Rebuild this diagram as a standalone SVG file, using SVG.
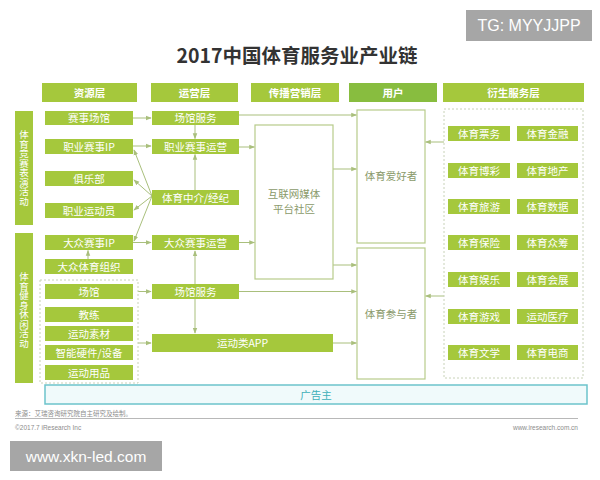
<svg xmlns="http://www.w3.org/2000/svg" width="600" height="480" viewBox="0 0 600 480">
<style>
text{font-family:"Noto Sans CJK SC","Liberation Sans",sans-serif}
.g{fill:#a5c83c}
.hd{fill:#a5c83c}
.t{fill:#fff;font-size:10.5px;text-anchor:middle}
.th{fill:#fff;font-size:10.5px;font-weight:bold;text-anchor:middle}
.vt{fill:#fff;font-size:9.5px;text-anchor:middle;writing-mode:vertical-rl;text-orientation:upright}
.ob{fill:#fff;stroke:#b7cb8a;stroke-width:1.2}
.ot{fill:#8a9a6a;font-size:10.5px;text-anchor:middle}
.dash{fill:none;stroke:#c8d2b8;stroke-width:1;stroke-dasharray:2 2}
.c path,.c line{stroke:#a9bf7c;stroke-width:1;fill:none}
.ft{fill:#8c8c8c;font-size:6.5px}
</style>
<defs>
<marker id="a" viewBox="0 0 8 8" refX="7" refY="4" markerWidth="6" markerHeight="6" orient="auto-start-reverse" markerUnits="userSpaceOnUse">
<path d="M0,1 L8,4 L0,7 Z" fill="#a9bf7c"/>
</marker>
</defs>
<rect width="600" height="480" fill="#fff"/>
<g id="tg"><rect x="466" y="10" width="126" height="31" fill="#a6a6a6"/><text x="529" y="31" fill="#fff" font-size="16" text-anchor="middle" style="font-family:'Liberation Sans',sans-serif">TG: MYYJJPP</text></g>
<text x="297" y="63" font-size="19.5" font-weight="bold" fill="#333" text-anchor="middle">2017中国体育服务业产业链</text>

<g id="headers">
<rect class="hd" x="42" y="83" width="95" height="19"/><text class="th" x="89.5" y="96.5">资源层</text>
<rect class="hd" x="151" y="83" width="87" height="19"/><text class="th" x="194.5" y="96.5">运营层</text>
<rect class="hd" x="251" y="83" width="88" height="19"/><text class="th" x="295" y="96.5">传播营销层</text>
<rect x="349" y="83" width="88" height="19" fill="#88bd3f"/><text class="th" x="393" y="96.5">用户</text>
<rect class="hd" x="443" y="83" width="141" height="19"/><text class="th" x="513.5" y="96.5">衍生服务层</text>
</g>

<g id="sidebars">
<rect class="g" x="15" y="111" width="18" height="114"/>
<text class="vt" x="24" y="168">体育竞赛表演活动</text>
<rect class="g" x="15" y="233" width="18" height="150"/>
<text class="vt" x="24" y="310">体育健身休闲活动</text>
</g>

<g class="c" id="connectors">
<line x1="133" y1="118" x2="151" y2="118" marker-end="url(#a)"/>
<line x1="133" y1="146" x2="151" y2="146" marker-end="url(#a)"/>
<line x1="195" y1="125" x2="195" y2="138.5" marker-end="url(#a)"/>
<line x1="195" y1="190" x2="195" y2="154.5" marker-end="url(#a)"/>
<path d="M152,196 L134,150" marker-end="url(#a)"/>
<path d="M152,196 L134,180" marker-end="url(#a)"/>
<path d="M152,196 L134,210" marker-end="url(#a)"/>
<path d="M152,196 L134,241" marker-end="url(#a)"/>
<line x1="133" y1="242.5" x2="151" y2="242.5" marker-end="url(#a)"/>
<line x1="88" y1="259" x2="88" y2="250.5" marker-end="url(#a)"/>
<line x1="138" y1="291.5" x2="151" y2="291.5" marker-end="url(#a)"/>
<line x1="138" y1="343" x2="151" y2="343" marker-end="url(#a)"/>
<line x1="195" y1="251" x2="195" y2="333" marker-start="url(#a)" marker-end="url(#a)"/>
<line x1="239" y1="115" x2="356.5" y2="115" marker-end="url(#a)"/>
<line x1="239" y1="147" x2="254.5" y2="147" marker-end="url(#a)"/>
<line x1="239" y1="242.5" x2="254.5" y2="242.5" marker-end="url(#a)"/>
<line x1="333" y1="169" x2="356.5" y2="169" marker-end="url(#a)"/>
<line x1="333" y1="265" x2="356.5" y2="265" marker-end="url(#a)"/>
<line x1="239" y1="291.5" x2="356.5" y2="291.5" marker-end="url(#a)"/>
<line x1="333" y1="343" x2="356.5" y2="343" marker-end="url(#a)"/>
<line x1="444" y1="142" x2="425.5" y2="142" marker-end="url(#a)"/>
<line x1="444" y1="296" x2="425.5" y2="296" marker-end="url(#a)"/>
</g>

<g id="resource">
<rect class="dash" x="40" y="280" width="98" height="103"/>
<g id="n-saishichangguan"><rect class="g" x="45" y="111" width="88" height="14"/><text class="t" x="89" y="122">赛事场馆</text></g>
<g id="n-zhiyeip"><rect class="g" x="45" y="139" width="88" height="15"/><text class="t" x="89" y="150.5">职业赛事IP</text></g>
<g id="n-julebu"><rect class="g" x="45" y="171" width="88" height="15"/><text class="t" x="89" y="182.5">俱乐部</text></g>
<g id="n-yundongyuan"><rect class="g" x="45" y="203" width="88" height="15"/><text class="t" x="89" y="214.5">职业运动员</text></g>
<g id="n-dazhongip"><rect class="g" x="45" y="235" width="88" height="15"/><text class="t" x="89" y="246.5">大众赛事IP</text></g>
<g id="n-zuzhi"><rect class="g" x="45" y="259" width="88" height="15"/><text class="t" x="89" y="270.5">大众体育组织</text></g>
<g id="n-changguan"><rect class="g" x="45" y="284" width="88" height="15"/><text class="t" x="89" y="295.5">场馆</text></g>
<g id="n-jiaolian"><rect class="g" x="45" y="307" width="88" height="15"/><text class="t" x="89" y="318.5">教练</text></g>
<g id="n-sucai"><rect class="g" x="45" y="326" width="88" height="15"/><text class="t" x="89" y="337.5">运动素材</text></g>
<g id="n-yingjian"><rect class="g" x="45" y="345" width="88" height="15"/><text class="t" x="89" y="356.5">智能硬件/设备</text></g>
<g id="n-yongpin"><rect class="g" x="45" y="365" width="88" height="15"/><text class="t" x="89" y="376.5">运动用品</text></g>
</g>

<g id="operation">
<g id="n-fuwu1"><rect class="g" x="152" y="111" width="87" height="14"/><text class="t" x="195.5" y="122">场馆服务</text></g>
<g id="n-zhiyeyunying"><rect class="g" x="152" y="139" width="87" height="15"/><text class="t" x="195.5" y="150.5">职业赛事运营</text></g>
<g id="n-zhongjie"><rect class="g" x="152" y="190" width="87" height="15"/><text class="t" x="195.5" y="201.5">体育中介/经纪</text></g>
<g id="n-dazhongyunying"><rect class="g" x="152" y="235" width="87" height="15"/><text class="t" x="195.5" y="246.5">大众赛事运营</text></g>
<g id="n-fuwu2"><rect class="g" x="152" y="284" width="87" height="15"/><text class="t" x="195.5" y="295.5">场馆服务</text></g>
<g id="n-app"><rect class="g" x="152" y="334" width="181" height="18"/><text class="t" x="242.5" y="347">运动类APP</text></g>
</g>

<g id="n-hulianwang"><rect class="ob" x="255" y="125" width="78" height="154"/><text class="ot" x="294" y="198" font-size="10">互联网媒体</text><text class="ot" x="294" y="213" font-size="10">平台社区</text></g>
<g id="n-aihaozhe"><rect class="ob" x="357" y="110" width="68" height="133"/><text class="ot" x="391" y="180">体育爱好者</text></g>
<g id="n-canyuzhe"><rect class="ob" x="357" y="248" width="68" height="131"/><text class="ot" x="391" y="318">体育参与者</text></g>

<g id="derived">
<rect class="dash" x="444" y="109" width="139" height="269"/>
<g><rect class="g" x="448" y="126" width="62" height="15"/><text class="t" x="479" y="137.5">体育票务</text></g>
<g><rect class="g" x="517" y="126" width="61" height="15"/><text class="t" x="547.5" y="137.5">体育金融</text></g>
<g><rect class="g" x="448" y="163" width="62" height="15"/><text class="t" x="479" y="174.5">体育博彩</text></g>
<g><rect class="g" x="517" y="163" width="61" height="15"/><text class="t" x="547.5" y="174.5">体育地产</text></g>
<g><rect class="g" x="448" y="199" width="62" height="15"/><text class="t" x="479" y="210.5">体育旅游</text></g>
<g><rect class="g" x="517" y="199" width="61" height="15"/><text class="t" x="547.5" y="210.5">体育数据</text></g>
<g><rect class="g" x="448" y="235" width="62" height="15"/><text class="t" x="479" y="246.5">体育保险</text></g>
<g><rect class="g" x="517" y="235" width="61" height="15"/><text class="t" x="547.5" y="246.5">体育众筹</text></g>
<g><rect class="g" x="448" y="272" width="62" height="15"/><text class="t" x="479" y="283.5">体育娱乐</text></g>
<g><rect class="g" x="517" y="272" width="61" height="15"/><text class="t" x="547.5" y="283.5">体育会展</text></g>
<g><rect class="g" x="448" y="309" width="62" height="15"/><text class="t" x="479" y="320.5">体育游戏</text></g>
<g><rect class="g" x="517" y="309" width="61" height="15"/><text class="t" x="547.5" y="320.5">运动医疗</text></g>
<g><rect class="g" x="448" y="345" width="62" height="15"/><text class="t" x="479" y="356.5">体育文学</text></g>
<g><rect class="g" x="517" y="345" width="61" height="15"/><text class="t" x="547.5" y="356.5">体育电商</text></g>
</g>

<g id="n-guanggaozhu"><rect x="45" y="385" width="542" height="19" fill="#f0fafb" stroke="#6cc3cb" stroke-width="1.5"/><text x="316" y="398.5" font-size="10.5" fill="#3eb0b9" text-anchor="middle">广告主</text></g>

<g id="footer">
<text class="ft" x="15" y="416">来源：艾瑞咨询研究院自主研究及绘制。</text>
<line x1="15" y1="418.5" x2="578" y2="418.5" stroke="#9a9a9a" stroke-width="0.7"/>
<text class="ft" x="15" y="430" style="font-family:'Liberation Sans',sans-serif">©2017.7 iResearch Inc</text>
<text class="ft" x="578" y="430" text-anchor="end" style="font-family:'Liberation Sans',sans-serif">www.iresearch.com.cn</text>
</g>
<g id="wm"><rect x="10" y="441" width="152" height="30" fill="#a6a6a6"/><text x="86" y="461.5" fill="#fff" font-size="15.5" text-anchor="middle" style="font-family:'Liberation Sans',sans-serif">www.xkn-led.com</text></g>
</svg>
